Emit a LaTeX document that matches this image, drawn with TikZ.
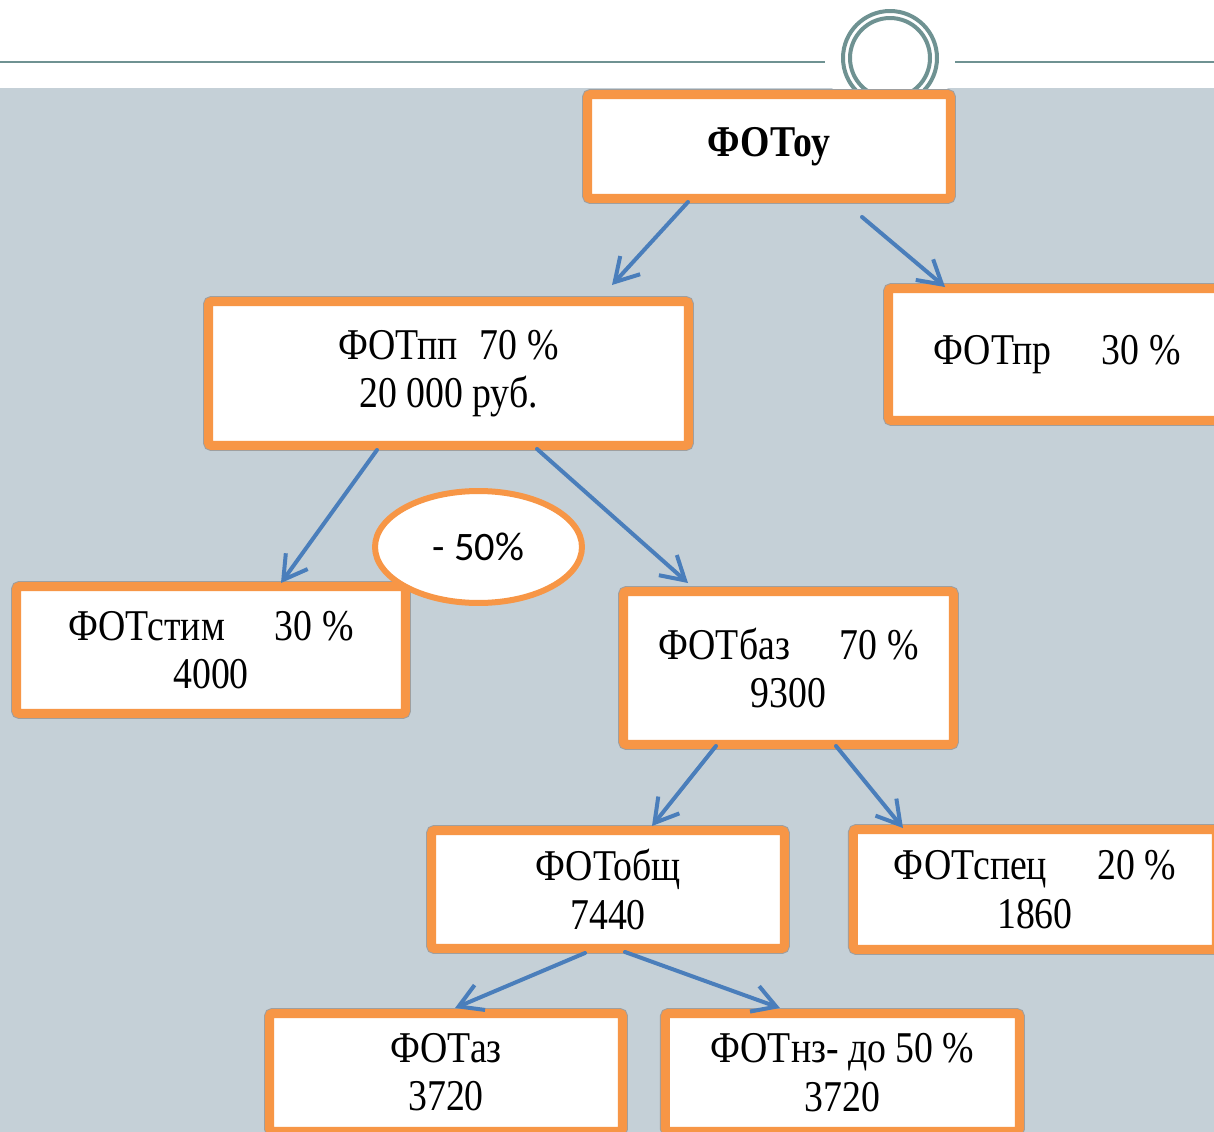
\documentclass[tikz,border=0pt]{standalone}
\usepackage{fontspec}
\setmainfont{Liberation Serif}[FakeStretch=0.86]
\newfontfamily\calfont{Carlito}
\usepackage{tikz}
\usetikzlibrary{shapes.geometric, positioning, calc, arrows.meta}
\definecolor{boxorange}{HTML}{F79646}
\definecolor{linkblue}{HTML}{4A7EBB}
\definecolor{slidegray}{HTML}{C5D0D7}
\definecolor{rulegray}{HTML}{6F9292}
\newcommand\colgap{\hspace{1cm}}
\tikzset{x=0.02cm, y=-0.02cm,
         >={Straight Barb[length=4.6mm, width=5.4mm]},
         fotbox/.style={rectangle, fill=white, draw=boxorange, line width=1.8mm,
                        rounded corners=0.6mm, inner sep=0pt, align=center,
                        preaction={draw=gray!75, line width=2.2mm},
                        font=\fontsize{25pt}{27.5pt}\selectfont},
         cutoval/.style={ellipse, fill=white, draw=boxorange, line width=1.2mm,
                         inner sep=0pt, minimum width=4.14cm, minimum height=2.24cm,
                         font=\calfont\fontsize{23pt}{26pt}\selectfont},
         link/.style={->, draw=linkblue, line width=0.8mm, line cap=round},
         }

\begin{document}
\begin{tikzpicture}
    \useasboundingbox (0,0) rectangle (1214,1132);
    % slide background
    \fill[slidegray] (0,88) rectangle (1214,1132);
    \draw[rulegray, line width=0.5mm] (0,62) -- (1214,62);
    \fill[white] (890,58) circle[radius=1.3cm];
    \draw[rulegray, line width=0.8mm] (890,58) circle[radius=0.94cm];
    \draw[rulegray, line width=0.8mm] (890,58) circle[radius=0.8cm];

    \node[fotbox, minimum width=7.26cm, minimum height=2.08cm, font=\bfseries\fontsize{25pt}{27.5pt}\selectfont] (ou) at (769,146.5) {ФОТоу};
    \node[fotbox, minimum width=9.6cm, minimum height=2.88cm] (pp) at (448.5,373.5) {ФОТпп\hspace{0.44cm}70 \%\\20 000 руб.};
    \node[fotbox, minimum width=6.74cm, minimum height=2.64cm] (pr) at (1057,354.5) {ФОТпр\colgap30 \%};
    \node[fotbox, minimum width=7.78cm, minimum height=2.54cm] (stim) at (211,650) {ФОТстим\colgap30 \%\\4000};
    \node[cutoval] (cut) at (478.5,547) {- 50\%};
    \node[fotbox, minimum width=6.6cm, minimum height=3.06cm] (baz) at (788.5,668) {ФОТбаз\colgap70 \%\\9300};
    \node[fotbox, minimum width=7.06cm, minimum height=2.36cm] (obsch) at (608,889.5) {ФОТобщ\\7440};
    \node[fotbox, minimum width=7.26cm, minimum height=2.4cm, right=1.2cm of obsch] (spec) {ФОТспец\colgap20 \%\\1860};
    \node[fotbox, minimum width=7.06cm, minimum height=2.36cm] (az) at (446,1072.5) {ФОТаз\\3720};
    \node[fotbox, minimum width=7.08cm, minimum height=2.36cm, right=0.68cm of az] (nz) {ФОТнз- до 50 \%\\3720};

    \draw[link] ($(ou.south)+(-81,-1)$) -- ($(pp.north)+(163.5,-12)$);
    \draw[link] ($(ou.south)+(93,14)$) -- ($(pr.north west)+(61,3)$);
    \draw[link] ($(pp.south)+(-71.5,0)$) -- ($(stim.north)+(70,1)$);
    \draw[link] ($(pp.south)+(88.5,-1)$) -- ($(baz.north)+(-100.5,-4)$);
    \draw[link] ($(baz.south)+(-72.5,-3)$) -- ($(obsch.north)+(44,0)$);
    \draw[link] ($(baz.south)+(47.5,-3)$) -- ($(spec.north west)+(54,3)$);
    \draw[link] ($(obsch.south)+(-23,0)$) -- ($(az.north)+(9,-1)$);
    \draw[link] ($(obsch.south)+(17,-1)$) -- ($(nz.north west)+(119,-1)$);
\end{tikzpicture}
\end{document}
